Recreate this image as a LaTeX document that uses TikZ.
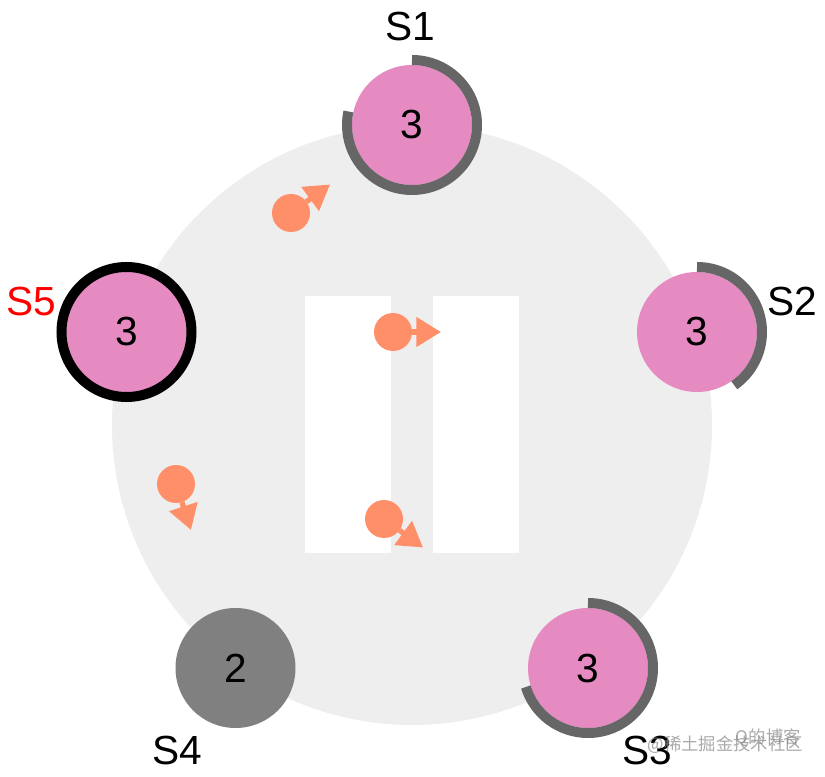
\documentclass[tikz,border=0pt]{standalone}
\usepackage{fontspec}
\setmainfont{Liberation Sans}
\newfontfamily\cjkfont{Noto Sans CJK SC}
\usetikzlibrary{arrows.meta}
\definecolor{pinkfill}{HTML}{E68AC2}
\definecolor{ringgray}{HTML}{666666}
\definecolor{deadgray}{HTML}{808080}
\definecolor{bggray}{HTML}{EEEEEE}
\definecolor{salmon}{HTML}{FF8F69}
\definecolor{markgray}{HTML}{8C8C8C}
\tikzset{
  server/.style={circle,fill=pinkfill,minimum size=90pt,inner sep=0pt,outer sep=0pt,font=\fontsize{30.5}{32}\selectfont},
  leader/.style={server,draw=black,line width=7.5pt,minimum size=97.5pt},
  downserver/.style={server,fill=deadgray},
  ring/.style={draw=ringgray,line width=7.5pt,line cap=butt},
  namelabel/.style={font=\fontsize{30.5}{32}\selectfont,inner sep=0pt},
  rpcdot/.style={circle,fill=salmon,minimum size=28.5pt,inner sep=0pt,outer sep=0pt},
  rpcarrow/.style={draw=salmon,line width=4pt,-{Triangle[length=18.5pt,width=21.5pt,fill=salmon]}},
  wmark/.style={font=\cjkfont\fontsize{13}{15}\selectfont,text=markgray,text opacity=0.75,inner sep=0pt}
}
\newcommand{\dn}[1]{\raisebox{-1.1pt}{#1}}
\begin{document}
\begin{tikzpicture}[x=0.75pt,y=0.75pt]
\useasboundingbox (0,0) rectangle (825,776);
\fill[bggray] (412,351) circle[radius=225pt];
\fill[white] (305,223) rectangle (391,480);
\fill[white] (433,223) rectangle (519,480);

\node[server] (s1) at (412,651) {\dn{3}};
\node[server] (s2) at (697,444) {\dn{3}};
\node[server] (s3) at (588,108) {\dn{3}};
\node[downserver] (s4) at (235.5,108) {\dn{2}};
\node[leader] (s5) at (126.5,444) {\dn{3}};

\draw[ring] (s1.center) ++(90:48.75pt) arc[start angle=90,end angle=-192,radius=48.75pt];
\draw[ring] (s2.center) ++(90:48.75pt) arc[start angle=90,end angle=-55,radius=48.75pt];
\draw[ring] (s3.center) ++(90:48.75pt) arc[start angle=90,end angle=-163,radius=48.75pt];

\node[namelabel] (l1) at (410,749.5) {S1};
\node[namelabel] (l2) at (792,474) {S2};
\node[namelabel] (l3) at (647,26) {S3};
\node[namelabel] (l4) at (177,26) {S4};
\node[namelabel,text=red] (l5) at (31,474) {S5};

\node[rpcdot] (d1) at (291,563) {};
\node[rpcdot] (d2) at (393,444) {};
\node[rpcdot] (d3) at (176,292) {};
\node[rpcdot] (d4) at (384,257) {};
\coordinate (t1) at (330,591.5);
\coordinate (t2) at (441,444);
\coordinate (t3) at (191,246);
\coordinate (t4) at (423,228.5);
\draw[rpcarrow] (d1) -- (t1);
\draw[rpcarrow] (d2) -- (t2);
\draw[rpcarrow] (d3) -- (t3);
\draw[rpcarrow] (d4) -- (t4);

\node[wmark,anchor=east] (w1) at (803,31) {@稀土掘金技术社区};
\node[wmark,anchor=east] (w2) at (801,38) {Q的博客};
\end{tikzpicture}
\end{document}
